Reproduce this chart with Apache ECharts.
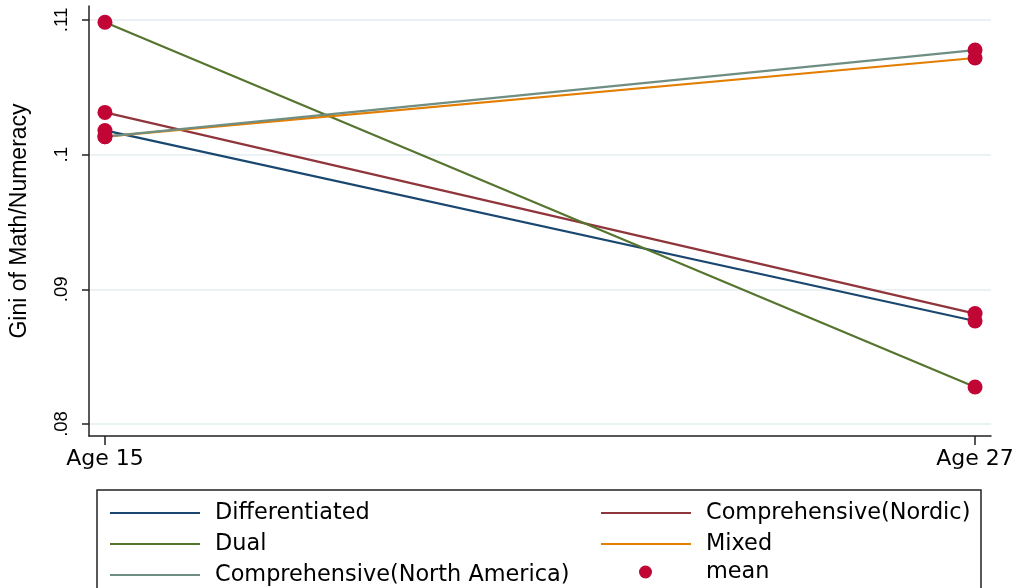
<!DOCTYPE html>
<html>
<head>
<meta charset="utf-8">
<script src="https://cdn.jsdelivr.net/npm/echarts@6/dist/echarts.min.js"></script>
<style>html,body{margin:0;padding:0;background:#fff;}#c{width:1023px;height:588px;}</style>
</head>
<body>
<div id="c"></div>
<script>
// Data
var ages = [15, 27];
var ageLabels = ['Age 15', 'Age 27'];
var yTicks = [0.08, 0.09, 0.10, 0.11];
var yTickLabels = ['.08', '.09', '.1', '.11'];
var seriesNames = ['Differentiated', 'Comprehensive(Nordic)', 'Dual', 'Mixed', 'Comprehensive(North America)'];
var differentiated = [0.1018, 0.08765];
var nordic = [0.10314, 0.0882];
var dual = [0.10983, 0.08275];
var mixed = [0.10134, 0.10718];
var northAmerica = [0.10134, 0.10777];
var colors = ['#1a476f', '#90353b', '#55752f', '#e37e00', '#6e8e84'];
var meanColor = '#c10534';

var values = [differentiated, nordic, dual, mixed, northAmerica];
function pairs(v) { return ages.map(function (a, i) { return [a, v[i]]; }); }

var lineSeries = seriesNames.map(function (n, k) {
  return {
    name: n, type: 'line', data: pairs(values[k]), color: colors[k],
    symbol: 'none', lineStyle: {width: 2.2, color: colors[k]}, z: 2, silent: true
  };
});
var meanData = [];
values.forEach(function (v) { pairs(v).forEach(function (p) { meanData.push(p); }); });
var series = lineSeries.concat([{
  name: 'mean', type: 'scatter', data: meanData, symbol: 'circle', symbolSize: 15,
  color: meanColor, itemStyle: {color: meanColor, opacity: 1}, z: 5, silent: true
}]);

var legendText = {fontFamily: 'DejaVu Sans', fontSize: 22.4, color: '#000', lineHeight: 20, padding: [0, 0, 0, 10]};

var option = {
  backgroundColor: '#fff',
  animation: false,
  grid: {left: 89, right: 32, top: 6, bottom: 152, containLabel: false},
  xAxis: {
    type: 'value', min: 14.78, max: 27.22,
    axisLine: {show: true, onZero: false, lineStyle: {color: '#222', width: 1.5}},
    axisTick: {show: true, length: 9, customValues: ages, lineStyle: {color: '#222', width: 1.5}},
    axisLabel: {customValues: ages, formatter: function (v) { return ageLabels[ages.indexOf(v)] || ''; },
      fontFamily: 'DejaVu Sans', fontSize: 22, color: '#000', margin: 12},
    splitLine: {show: false}
  },
  yAxis: {
    type: 'value', min: 0.07911, max: 0.11104,
    name: 'Gini of Math/Numeracy', nameLocation: 'middle', nameRotate: 90, nameGap: 58,
    nameTextStyle: {fontFamily: 'Liberation Sans', fontSize: 23, color: '#000'},
    axisLine: {show: true, lineStyle: {color: '#222', width: 1.5}},
    axisTick: {show: true, length: 7, customValues: yTicks, lineStyle: {color: '#222', width: 1.5}},
    axisLabel: {customValues: yTicks, rotate: 90, margin: 18,
      formatter: function (v) {
        for (var i = 0; i < yTicks.length; i++) { if (Math.abs(yTicks[i] - v) < 1e-9) return yTickLabels[i]; }
        return '';
      },
      fontFamily: 'Liberation Sans', fontSize: 18.5, color: '#000'},
    splitLine: {show: true, lineStyle: {color: '#eaf2f3', width: 2}}
  },
  legend: [
    {data: ['Differentiated', 'Dual', 'Comprehensive(North America)'], orient: 'vertical', left: 110, top: 502,
      padding: 0, itemGap: 9, itemWidth: 90, itemHeight: 2, icon: 'rect', selectedMode: false, textStyle: legendText},
    {data: ['Comprehensive(Nordic)', 'Mixed'], orient: 'vertical', left: 601, top: 502,
      padding: 0, itemGap: 9, itemWidth: 90, itemHeight: 2, icon: 'rect', selectedMode: false, textStyle: legendText},
    {data: ['mean'], orient: 'vertical', left: 639, top: 561,
      padding: 0, itemWidth: 13, itemHeight: 13, icon: 'circle', selectedMode: false,
      textStyle: {fontFamily: 'DejaVu Sans', fontSize: 22.4, color: '#000', lineHeight: 20, padding: [0, 0, 0, 49]}}
  ],
  graphic: [{
    type: 'rect', shape: {x: 97, y: 490, width: 884, height: 120},
    style: {fill: 'none', stroke: '#222', lineWidth: 1.5}, silent: true
  }],
  series: series
};
echarts.init(document.getElementById('c')).setOption(option);
</script>
</body>
</html>
